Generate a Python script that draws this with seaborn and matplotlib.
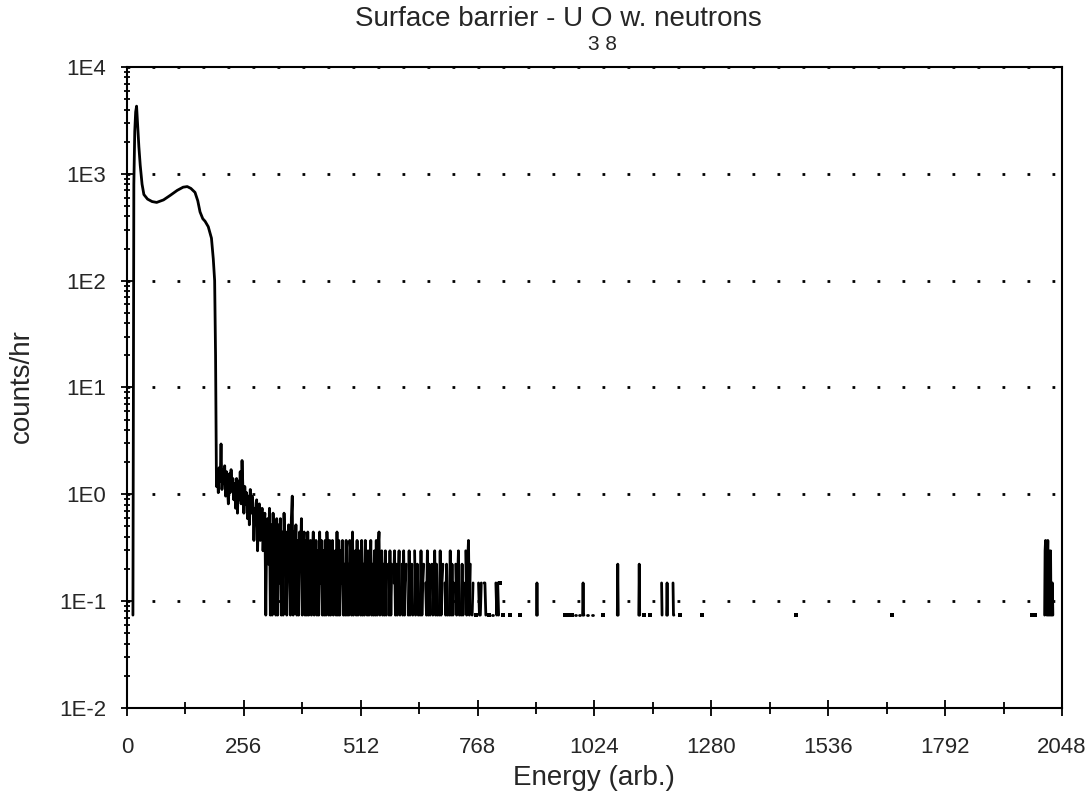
import numpy as np
import pandas as pd
import matplotlib
matplotlib.use("Agg")
import matplotlib.pyplot as plt
from matplotlib.ticker import FixedLocator, FuncFormatter, LogLocator, NullFormatter
import seaborn as sns

sns.set_style("white")
plt.rcParams['font.family'] = ['Liberation Sans', 'DejaVu Sans']

# one count in a channel corresponds to this rate (counts/hr)
one_count = 0.074

# smooth alpha hump at low energy (channel, counts/hr)
peak_ch = [13, 15, 17, 19, 21, 23, 26, 29, 33, 37, 45, 55, 65, 80, 95, 110,
           123, 132, 140, 149, 155, 160, 166, 171, 178, 185, 189, 192, 194]
peak_rate = [0.074, 800, 2500, 3800, 4300, 3000, 1800, 1200, 800, 640, 580, 550,
             540, 570, 630, 700, 750, 760, 730, 670, 560, 440, 380, 360, 320,
             250, 160, 100, 20]

# noisy region, counts per bin, every 2nd channel starting at 196
noise_start = 196
noise_counts = [
    16, 22, 14, 24, 18, 40, 15, 23, 17, 25, 13, 22, 16, 11, 21, 14, 23, 15, 19, 12,
    17, 10, 19, 9, 18, 12, 22, 11, 28, 15, 9, 16, 11, 14, 8, 13, 7, 15, 9, 13,
    11, 5, 10, 8, 12, 4, 9, 11, 5, 8, 10, 4, 7, 9, 1, 6, 8, 3, 10, 1,
    7, 1, 9, 3, 6, 1, 8, 1, 7, 2, 8, 1, 6, 1, 9, 4, 6, 1, 5, 7,
    4, 1, 8, 13, 1, 6, 2, 7, 1, 5, 1, 6, 3, 8, 1, 4, 6, 1, 5, 1,
    6, 1, 4, 5, 1, 3, 6, 1, 2, 5, 1, 4, 1, 6, 2, 5, 1, 4, 1, 5,
    1, 6, 3, 1, 5, 1, 2, 5, 1, 3, 4, 1, 6, 1, 5, 1, 4, 2, 5, 1,
    3, 1, 5, 1, 3, 1, 5, 4, 1, 6, 1, 3, 4, 1, 5, 1, 3, 4, 1, 5,
    1, 3, 1, 5, 2, 1, 4, 1, 2, 5, 1, 3, 1, 4, 1, 5, 1, 4, 6, 1,
    2, 4, 1, 3, 1, 4, 1, 0, 3, 1, 4, 1, 3, 0, 2, 4, 1, 3, 1, 2,
    4, 1, 0, 3, 1, 4, 1, 2, 3, 0, 1, 4, 1, 2, 3, 1, 0, 4, 1, 2,
    3, 1, 0, 1, 4, 1, 2, 3, 0, 2, 1, 4, 1, 3, 1, 0, 3, 1, 2, 4,
    1, 3, 1, 0, 1, 4, 1, 2, 3, 0, 2, 1, 3, 1, 0, 1, 4, 1, 3, 1,
    2, 0, 3, 1, 2, 4, 1, 0, 1, 3, 1, 2, 0, 4, 1, 3, 5, 1, 3, 0,
    1, 2, 0, 0, 1, 0, 0, 2, 1, 1, 2, 0, 0, 2, 2, 1, 0, 0, 1, 0,
    0, 0, 1, 1, 0, 0, 2, 1, 2, 1, 0, 2, 0, 0, 1, 0, 0, 0, 0, 0,
    0, 0, 1, 0, 0, 0, 0, 0, 0, 0, 0, 0, 1, 0, 0, 0, 0, 0, 0, 0,
]

# sparse high-energy tail, single channels
tail_ch = [897, 898, 899, 959, 966, 975, 981, 982, 983, 984, 990, 991, 992,
           998, 999, 1000, 1001, 1008, 1009, 1010, 1019, 1020, 1021, 1031, 1032,
           1043, 1074, 1075, 1076, 1121, 1122, 1123, 1133, 1146, 1171, 1172,
           1182, 1183, 1184, 1196, 1197, 1198, 1212, 1260, 1465, 1676, 1982,
           1988, 2010, 2011, 2012, 2013, 2014, 2015, 2016, 2017, 2018, 2019,
           2020, 2021, 2022, 2023, 2024, 2025, 2026, 2027, 2028]
tail_counts = [1, 2, 1, 1, 1, 1, 1, 1, 1, 1, 1, 1, 1,
               1, 2, 1, 1, 1, 1, 1, 1, 1, 1, 1, 1,
               1, 1, 3, 1, 1, 3, 1, 1, 1, 2, 1,
               1, 2, 1, 2, 1, 1, 1, 1, 1, 1, 1,
               1, 1, 4, 5, 2, 4, 1, 3, 5, 1, 4,
               3, 1, 2, 4, 1, 1, 2, 2, 1]

x_ticks = [0, 256, 512, 768, 1024, 1280, 1536, 1792, 2048]
y_ticks = [1e-2, 1e-1, 1e0, 1e1, 1e2, 1e3, 1e4]

# assemble the spectrum
noise_ch = noise_start + 2 * np.arange(len(noise_counts))
tail_full = np.zeros(2048)
tail_full[tail_ch] = tail_counts
tail_range = np.arange(noise_ch[-1] + 1, 2048)

spec = pd.DataFrame({
    "ch": np.concatenate([peak_ch, noise_ch, tail_range]),
    "rate": np.concatenate([peak_rate,
                            np.array(noise_counts) * one_count,
                            tail_full[tail_range] * one_count]),
})
spec["seg"] = (spec["rate"] == 0).cumsum()
spec = spec[spec["rate"] > 0].copy()
spec["n"] = spec.groupby("seg")["ch"].transform("size")
single = spec[spec["n"] == 1]

fig = plt.figure(figsize=(10.91, 7.92), dpi=100)
ax = fig.add_axes([0.1164, 0.1061, 0.857, 0.8093])

sns.lineplot(data=spec, x="ch", y="rate", units="seg", estimator=None,
             color="black", lw=2.0, legend=False, ax=ax)
sns.scatterplot(data=single, x="ch", y="rate", marker="s", s=5, color="black",
                linewidth=0, legend=False, ax=ax)

ax.set_yscale("log")
ax.set_xlim(0, 2048)
ax.set_ylim(1e-2, 1e4)

ax.xaxis.set_major_locator(FixedLocator(x_ticks))
ax.xaxis.set_minor_locator(FixedLocator([t + 128 for t in x_ticks[:-1]]))
ax.yaxis.set_major_locator(FixedLocator(y_ticks))
ax.yaxis.set_minor_locator(LogLocator(base=10, subs=np.arange(2, 10), numticks=30))
ax.yaxis.set_minor_formatter(NullFormatter())
ax.yaxis.set_major_formatter(FuncFormatter(lambda v, p: f"1E{int(round(np.log10(v)))}"))

ax.tick_params(axis="x", which="major", direction="inout", length=12, width=1.3,
               pad=15, labelsize=16, color="black")
ax.tick_params(axis="x", which="minor", direction="inout", length=9, width=1.3,
               color="black")
ax.tick_params(axis="y", which="major", direction="inout", length=8, width=1.3,
               pad=11, labelsize=16, color="black")
ax.tick_params(axis="y", which="minor", direction="inout", length=5, width=1.3,
               color="black")
ax.tick_params(which="both", bottom=True, left=True, top=False, right=False)

ax.yaxis.grid(True, which="major", color="black", linestyle=(0, (1, 8)), lw=2)
ax.xaxis.grid(False)
for s in ax.spines.values():
    s.set_color("black")
    s.set_linewidth(1.5)

ax.set_xlabel("")
ax.set_ylabel("")
fig.text(594 / 1091, 1 - 778 / 792, "Energy (arb.)", ha="center", va="center", fontsize=20)
fig.text(22 / 1091, 1 - 386 / 792, "counts/hr", ha="center", va="center",
         rotation=90, fontsize=20)
fig.text(558 / 1091, 1 - 19 / 792, "Surface barrier - U O w. neutrons",
         ha="center", va="center", fontsize=20)
fig.text(603 / 1091, 1 - 44 / 792, "3 8", ha="center", va="center", fontsize=15)

fig.savefig("out.png", dpi=100, facecolor="white")
